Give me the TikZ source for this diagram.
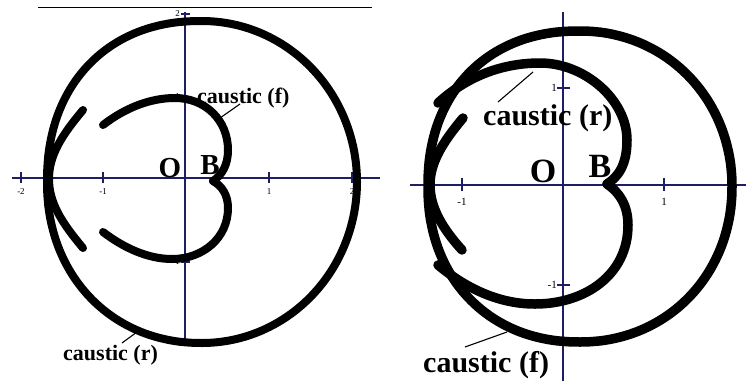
\documentclass[tikz,border=0pt]{standalone}
\usepackage{fontspec}
\setmainfont{Liberation Serif}
\definecolor{axisnavy}{RGB}{30,30,100}
\tikzset{
  axisline/.style={draw=axisnavy, line width=1.8pt},
  tickmark/.style={draw=axisnavy, line width=1.2pt},
  ticklbl/.style={font=\fontsize{9}{10}\selectfont, text=black, inner sep=0pt},
  ticklblR/.style={font=\fontsize{11}{12}\selectfont, text=black, inner sep=0pt},
  curveL/.style={draw=black, line width=8pt, line cap=round, line join=round},
  curveR/.style={draw=black, line width=9.5pt, line cap=round, line join=round},
  leader/.style={draw=black, line width=1.1pt},
  lblL/.style={font=\fontsize{22}{24}\selectfont\bfseries, inner sep=0pt, anchor=base west},
  lblR/.style={font=\fontsize{30}{32}\selectfont\bfseries, inner sep=0pt, anchor=base west},
  ptL/.style={font=\fontsize{29}{30}\selectfont\bfseries, inner sep=0pt, anchor=base},
  ptR/.style={font=\fontsize{34}{36}\selectfont\bfseries, inner sep=0pt, anchor=base},
}
% superellipse quadrant helpers: exponent #1 = 2/n
\newcommand{\seC}[2]{pow(cos(#2)+0.00001,#1)}
\newcommand{\seS}[2]{pow(sin(#2)+0.00001,#1)}
\begin{document}
\begin{tikzpicture}[x=1pt, y=-1pt]
\useasboundingbox (0,0) rectangle (746,381);
\fill[white] (0,0) rectangle (746,381);

% ================= LEFT PANEL =================
\draw[black, line width=0.9pt] (38,7) -- (372,7);
\coordinate (LxA) at (12,178); \coordinate (LxB) at (380,178);
\coordinate (LyA) at (185,12); \coordinate (LyB) at (185,343);
\draw[axisline] (LxA) -- (LxB);
\draw[axisline] (LyA) -- (LyB);
\foreach \x/\t in {21/-2,103/-1,269/1,352/2}{
  \draw[tickmark] (\x,172) -- (\x,183);
  \node[ticklbl] (Ltx\x) at (\x,192) {\t};
}
\foreach \y/\t in {14/2,97/1,262/-1}{
  \draw[tickmark] (181,\y) -- (190,\y);
  \node[ticklbl, anchor=east] (Lty\y) at (180,\y) {\t};
}
% outer closed curve (near-circular, slightly fuller on the left)
\draw[curveL]
  plot[variable=\u, domain=0:90, samples=50] ({202+155*\seC{1}{\u}}, {182+161*\seS{1}{\u}})
  -- plot[variable=\u, domain=0:90, samples=50] ({202-155*\seS{0.95}{\u}}, {182+161*\seC{0.95}{\u}})
  -- plot[variable=\u, domain=0:90, samples=50] ({202-155*\seC{0.91}{\u}}, {182-161*\seS{0.91}{\u}})
  -- plot[variable=\u, domain=0:90, samples=50] ({202+155*\seS{1}{\u}}, {182-161*\seC{1}{\u}})
  -- cycle;
% inner caustic (f)
\draw[curveL] (103,125) .. controls (125,108) and (150,98) .. (175,98)
  .. controls (205,98) and (228,120) .. (228,150)
  .. controls (228,165) and (222,175) .. (213,181);
\draw[curveL] (213,181) .. controls (222,186) and (228,195) .. (228,208)
  .. controls (228,238) and (203,259) .. (172,259)
  .. controls (148,259) and (124,248) .. (103,232);
% small left arc
\draw[curveL] (83,110) .. controls (62,135) and (49,155) .. (49,179)
  .. controls (49,203) and (62,223) .. (83,248);
% labels
\node[ptL] (LO) at (170,177) {O};
\node[ptL] (LB) at (210,174) {B};
\node[lblL] (Lf) at (197,103) {caustic (f)};
\node[lblL] (Lr) at (63,360) {caustic (r)};
\coordinate (LfA) at (220,118); \coordinate (LfB) at (240,104);
\coordinate (LrA) at (122,343); \coordinate (LrB) at (137,332);
\draw[leader] (LfA) -- (LfB);
\draw[leader] (LrA) -- (LrB);

% ================= RIGHT PANEL =================
\coordinate (RxA) at (410,185); \coordinate (RxB) at (746,185);
\coordinate (RyA) at (563,12); \coordinate (RyB) at (563,381);
\draw[axisline] (RxA) -- (RxB);
\draw[axisline] (RyA) -- (RyB);
\foreach \x/\t in {462/-1,664/1}{
  \draw[tickmark] (\x,178) -- (\x,191);
  \node[ticklblR] (Rtx\x) at (\x,202) {\t};
}
\foreach \y/\t in {88/1,285/-1}{
  \draw[tickmark] (557,\y) -- (570,\y);
  \node[ticklblR, anchor=east] (Rty\y) at (557,\y) {\t};
}
% outer closed curve (caustic f)
\draw[curveR]
  plot[variable=\u, domain=0:90, samples=50] ({580+152*\seC{0.97}{\u}}, {186.5+155.5*\seS{0.97}{\u}})
  -- plot[variable=\u, domain=0:90, samples=50] ({580-152*\seS{0.93}{\u}}, {186.5+155.5*\seC{0.93}{\u}})
  -- plot[variable=\u, domain=0:90, samples=50] ({580-152*\seC{0.91}{\u}}, {186.5-155.5*\seS{0.91}{\u}})
  -- plot[variable=\u, domain=0:90, samples=50] ({580+152*\seS{0.98}{\u}}, {186.5-155.5*\seC{0.98}{\u}})
  -- cycle;
% inner caustic (r)
\draw[curveR] (438,103) .. controls (465,78) and (500,63) .. (540,63)
  .. controls (585,63) and (627,100) .. (627,140)
  .. controls (627,165) and (618,177) .. (607,184);
\draw[curveR] (607,184) .. controls (619,192) and (628,205) .. (628,225)
  .. controls (628,275) and (585,304) .. (535,304)
  .. controls (495,304) and (462,285) .. (438,265);
% small left arc
\draw[curveR] (463,118) .. controls (442,143) and (430,163) .. (430,185)
  .. controls (430,207) and (442,228) .. (462,250);
% labels
\node[ptR] (RO) at (543,182) {O};
\node[ptR] (RB) at (600,177) {B};
\node[lblR] (Rr) at (483,125) {caustic (r)};
\node[lblR] (Rf) at (423,372) {caustic (f)};
\coordinate (RrA) at (498,102); \coordinate (RrB) at (533,72);
\coordinate (RfA) at (465,347); \coordinate (RfB) at (507,332);
\draw[leader] (RrA) -- (RrB);
\draw[leader] (RfA) -- (RfB);
\end{tikzpicture}
\end{document}
